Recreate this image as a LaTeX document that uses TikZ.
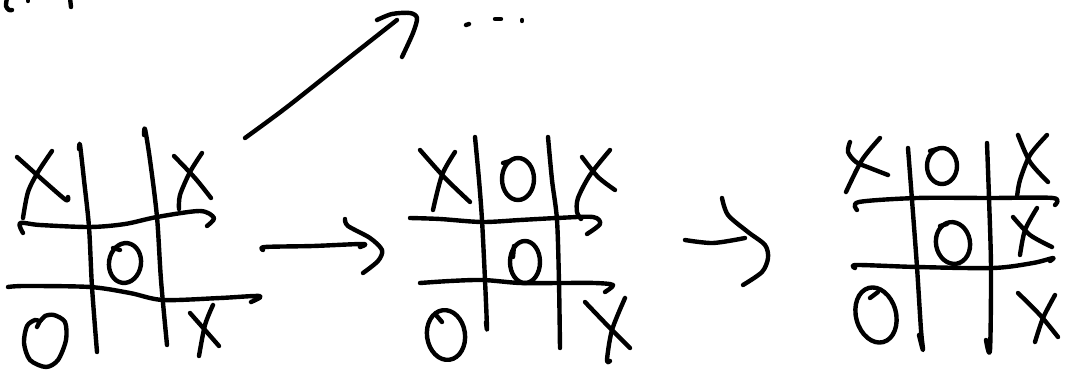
\documentclass[tikz,border=0pt]{standalone}
\usetikzlibrary{arrows.meta,positioning,calc}
\tikzset{
  ink/.style={line width=4.4pt,line cap=round,line join=round},
}
\begin{document}
\begin{tikzpicture}[x=1pt,y=-1pt]
  \useasboundingbox (0,0) rectangle (1066,370);
  \begin{scope}
    \draw[ink] plot[smooth] coordinates {(7,-2) (6,6) (9,10) (12,10)};
    \draw[ink] (28,-1) -- (28,1);
    \draw[ink] (70,-2) -- (71,7);
  \end{scope}
  \begin{scope}
    \draw[ink] plot[smooth] coordinates {(79,149) (80,145) (84,180) (89,227) (92,287) (97,352)};
    \draw[ink] plot[smooth] coordinates {(144,135) (145,129) (150,160) (157,217) (161,280) (167,345)};
    \draw[ink] plot[smooth] coordinates {(23,233) (20,223) (40,225) (90,227) (125,224) (157,217) (200,211) (214,218) (207,226)};
    \draw[ink] plot[smooth] coordinates {(8,287) (25,286) (90,287) (130,293) (163,300) (220,298) (260,296) (251,302)};
    \draw[ink] plot[smooth] coordinates {(17,157) (45,182) (66,200) (68,197)};
    \draw[ink] plot[smooth] coordinates {(52,151) (38,172) (28,192) (23,218)};
    \draw[ink] plot[smooth] coordinates {(174,156) (195,178) (211,198)};
    \draw[ink] plot[smooth] coordinates {(202,153) (190,172) (180,195) (179,209)};
    \draw[ink,rotate around={-8:(125,263)}] (125,263) ellipse (16 and 20);
    \draw[ink] (113,248) -- (120,250);
    \draw[ink] plot[smooth cycle] coordinates {(40,321) (45,316) (54,315) (65,322) (66,340) (58,360) (46,367) (30,360) (24,343) (27,326) (35,320)};
    \draw[ink] (40,321) -- (37,327);
    \draw[ink] plot[smooth] coordinates {(190,313) (205,330) (219,346)};
    \draw[ink] plot[smooth] coordinates {(213,305) (205,325) (199,356)};
  \end{scope}
  \coordinate (up0) at (245,138);
  \coordinate (up1) at (397,20);
  \draw[ink] plot[smooth] coordinates {(up0) (287,107) (350,57) (up1)};
  \draw[ink] plot[smooth] coordinates {(377,20) (392,14) (410,13) (417,18) (413,33) (402,57)};
  \draw[ink] (466,25) -- (469,24);
  \draw[ink] (495,19) -- (501,19);
  \draw[ink] (522,20) -- (522,21);
  \coordinate (a1s) at (263,250);
  \coordinate (a1e) at (363,244);
  \draw[ink] plot[smooth] coordinates {(a1s) (265,247) (313,246) (a1e) (360,247)};
  \draw[ink] plot[smooth] coordinates {(345,219) (348,226) (370,238) (382,250) (378,261) (363,273)};
  \begin{scope}
    \draw[ink] plot[smooth] coordinates {(475,137) (479,180) (482,220) (485,280) (487,328) (486,322)};
    \draw[ink] plot[smooth] coordinates {(548,137) (552,180) (557,220) (559,283) (560,348)};
    \draw[ink] plot[smooth] coordinates {(410,218) (440,219) (482,222) (520,220) (557,218) (593,217) (600,224) (587,234)};
    \draw[ink] plot[smooth] coordinates {(420,283) (450,281) (483,280) (520,283) (560,283) (595,283) (613,285) (605,292)};
    \draw[ink] plot[smooth] coordinates {(420,150) (445,178) (470,202)};
    \draw[ink] plot[smooth] coordinates {(455,152) (442,175) (433,210)};
    \draw[ink] (518,179) ellipse (16 and 21);
    \draw[ink] (503,163) -- (510,161);
    \draw[ink] plot[smooth] coordinates {(582,157) (598,177) (615,190)};
    \draw[ink] plot[smooth] coordinates {(610,150) (590,175) (578,198) (577,212) (581,219)};
    \draw[ink] (525,262) ellipse (15 and 21);
    \draw[ink] (514,246) -- (513,257);
    \draw[ink,rotate around={8:(446,335)}] (446,335) ellipse (19 and 25);
    \draw[ink] (436,315) -- (442,322);
    \draw[ink] plot[smooth] coordinates {(585,302) (608,326) (630,348)};
    \draw[ink] plot[smooth] coordinates {(625,298) (612,330) (607,360) (610,361)};
  \end{scope}
  \coordinate (a2s) at (685,240);
  \coordinate (a2e) at (745,238);
  \draw[ink] plot[smooth] coordinates {(a2s) (713,243) (a2e)};
  \draw[ink] plot[smooth] coordinates {(722,198) (728,215) (748,232) (765,245) (768,258) (762,272) (743,285)};
  \begin{scope}
    \draw[ink] plot[smooth] coordinates {(908,148) (912,200) (917,267) (921,330) (923,350) (919,335)};
    \draw[ink] plot[smooth] coordinates {(987,143) (989,198) (991,268) (990,350) (986,340)};
    \draw[ink] plot[smooth] coordinates {(857,210) (859,202) (917,198) (990,198) (1053,198) (1055,205)};
    \draw[ink] plot[smooth] coordinates {(855,268) (857,265) (917,267) (993,268) (1033,263) (1053,258) (1050,261)};
    \draw[ink] plot[smooth] coordinates {(850,142) (848,152) (856,162) (870,168) (888,175)};
    \draw[ink] plot[smooth] coordinates {(880,138) (862,160) (846,192)};
    \draw[ink] (942,166) ellipse (15 and 18);
    \draw[ink] (930,151) -- (937,149);
    \draw[ink] plot[smooth] coordinates {(1018,135) (1030,162) (1048,182)};
    \draw[ink] plot[smooth] coordinates {(1047,135) (1030,155) (1020,180) (1017,197)};
    \draw[ink,rotate around={10:(953,243)}] (953,243) ellipse (17 and 21);
    \draw[ink] (940,226) -- (947,224);
    \draw[ink] plot[smooth] coordinates {(1013,217) (1030,235) (1052,247)};
    \draw[ink] plot[smooth] coordinates {(1037,208) (1025,230) (1020,255)};
    \draw[ink,rotate around={15:(876,315)}] (876,315) ellipse (20 and 28);
    \draw[ink] (870,298) -- (878,292);
    \draw[ink] plot[smooth] coordinates {(1018,293) (1040,315) (1058,337)};
    \draw[ink] plot[smooth] coordinates {(1055,295) (1043,318) (1035,342)};
  \end{scope}
\end{tikzpicture}
\end{document}
